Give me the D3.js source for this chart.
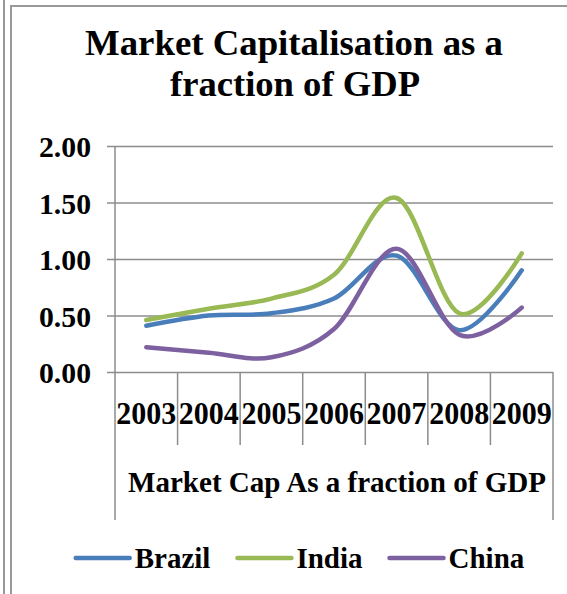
<!DOCTYPE html>
<html>
<head>
<meta charset="utf-8">
<script src="https://cdn.jsdelivr.net/npm/d3@7/dist/d3.min.js"></script>
</head>
<body style="margin:0; padding:0; background:#fff; overflow:hidden">
<div id="chart"></div>
<script>
const years = ['2003', '2004', '2005', '2006', '2007', '2008', '2009'];
const brazil = [0.41, 0.50, 0.52, 0.65, 1.03, 0.37, 0.90];
const india = [0.46, 0.56, 0.65, 0.86, 1.54, 0.52, 1.05];
const china = [0.22, 0.17, 0.13, 0.38, 1.09, 0.33, 0.57];
const seriesNames = ['Brazil', 'India', 'China'];
const seriesColors = ['#4a7ebb', '#98b954', '#7d60a0'];
const yTicks = [0, 0.5, 1, 1.5, 2];

const FONT = '"Liberation Serif"';

const width = 567,
	height = 594;

let svg = d3.select('#chart').append('svg')
			.attr('width', width)
			.attr('height', height)
			.style('display', 'block');

// helper for bold serif text
function label(sel, size) {
	return sel.style('font-family', FONT)
			.style('font-weight', 'bold')
			.style('font-size', size + 'px')
			.attr('fill', '#000');
}

// frame of the embedded chart
svg.append('line')
	.attr('x1', 4).attr('x2', 4)
	.attr('y1', 0).attr('y2', height)
	.attr('stroke', '#999').attr('stroke-width', 2);

svg.append('rect')
	.attr('x', 11).attr('y', 6)
	.attr('width', 700).attr('height', 700)
	.attr('fill', 'none')
	.attr('stroke', '#999').attr('stroke-width', 2);

// title
label(svg.append('text'), 35)
	.attr('x', 294).attr('y', 55)
	.attr('text-anchor', 'middle')
	.attr('textLength', 418)
	.attr('lengthAdjust', 'spacingAndGlyphs')
	.text('Market Capitalisation as a');

label(svg.append('text'), 35)
	.attr('x', 295).attr('y', 96)
	.attr('text-anchor', 'middle')
	.attr('textLength', 250)
	.attr('lengthAdjust', 'spacingAndGlyphs')
	.text('fraction of GDP');

let x = d3.scaleBand()
			.domain(years)
			.range([115, 553])
			.padding(0);

let y = d3.scaleLinear()
			.domain([0, 2])
			.range([372, 146]);

const bw = x.bandwidth();

// gridlines + y axis
let yAxis = d3.axisLeft(y)
				.tickValues(yTicks)
				.tickSize(-(553 - 107))
				.tickPadding(0)
				.tickFormat(d3.format('.2f'));

let gy = svg.append('g')
			.attr('transform', 'translate(107,0)')
			.call(yAxis)
			.attr('font-family', null)
			.attr('font-size', null);

gy.select('.domain').remove();
gy.selectAll('.tick line')
	.attr('stroke', '#8c8c8c')
	.attr('stroke-width', 1.5);
label(gy.selectAll('.tick text'), 29)
	.attr('x', -16)
	.attr('dy', '0.37em')
	.attr('textLength', 52)
	.attr('lengthAdjust', 'spacingAndGlyphs');

svg.append('line')
	.attr('x1', 115).attr('x2', 115)
	.attr('y1', y(2)).attr('y2', 520)
	.attr('stroke', '#8c8c8c').attr('stroke-width', 1.5);

svg.append('line')
	.attr('x1', 553).attr('x2', 553)
	.attr('y1', y(0)).attr('y2', 520)
	.attr('stroke', '#8c8c8c').attr('stroke-width', 1.5);

// category dividers
svg.selectAll('.divider')
	.data(years.slice(1))
	.enter()
	.append('line')
	.attr('class', 'divider')
	.attr('x1', (d) => x(d)).attr('x2', (d) => x(d))
	.attr('y1', y(0)).attr('y2', 445)
	.attr('stroke', '#8c8c8c').attr('stroke-width', 1.5);

label(svg.selectAll('.year')
	.data(years)
	.enter()
	.append('text')
	.attr('class', 'year'), 32)
	.attr('x', (d) => x(d) + bw / 2)
	.attr('y', 424)
	.attr('text-anchor', 'middle')
	.attr('textLength', 60)
	.attr('lengthAdjust', 'spacingAndGlyphs')
	.text((d) => d);

label(svg.append('text'), 29)
	.attr('x', 337).attr('y', 492)
	.attr('text-anchor', 'middle')
	.attr('textLength', 418)
	.attr('lengthAdjust', 'spacingAndGlyphs')
	.text('Market Cap As a fraction of GDP');

// lines
let line = d3.line()
			.x((d, i) => x(years[i]) + bw / 2)
			.y((d) => y(d))
			.curve(d3.curveCardinal.tension(0));

[brazil, india, china].forEach((values, k) => {
	svg.append('path')
		.datum(values)
		.attr('fill', 'none')
		.attr('stroke', seriesColors[k])
		.attr('stroke-width', 4.5)
		.attr('stroke-linecap', 'round')
		.attr('stroke-linejoin', 'round')
		.attr('d', line);
});

// legend
let legend = svg.append('g');
let lx = 0;
seriesNames.forEach((name, k) => {
	let item = legend.append('g').attr('transform', `translate(${lx},0)`);
	item.append('line')
		.attr('x1', 0).attr('x2', 54)
		.attr('y1', 558).attr('y2', 558)
		.attr('stroke', seriesColors[k])
		.attr('stroke-width', 4.5)
		.attr('stroke-linecap', 'round');
	let t = label(item.append('text'), 29)
		.attr('x', 59).attr('y', 568)
		.text(name);
	lx += 59 + t.node().getComputedTextLength() + 27;
});
lx -= 27;
legend.attr('transform', `translate(${300 - lx / 2},0)`);
</script>
</body>
</html>
